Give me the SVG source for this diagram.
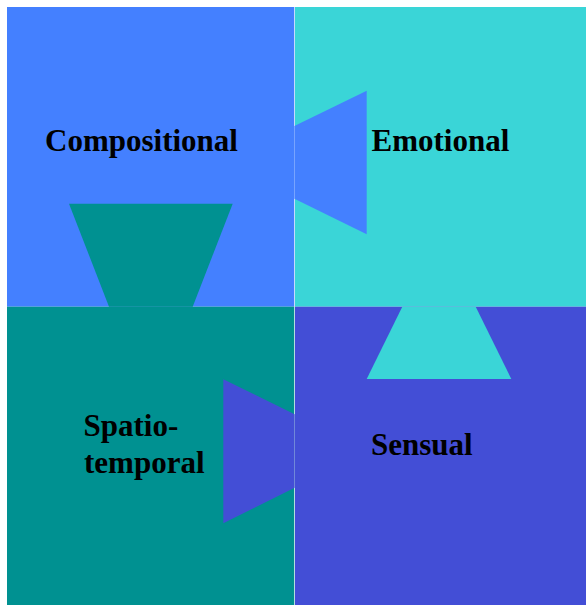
<svg xmlns="http://www.w3.org/2000/svg" width="586" height="605" viewBox="0 0 586 605">
<style>
.lbl{font-family:"Liberation Serif","Times New Roman",serif;font-weight:bold;font-size:31px;fill:#000}
.c1{fill:#4480FF}.c2{fill:#3AD5D7}.c3{fill:#009191}.c4{fill:#434ED6}
</style>
<rect width="586" height="605" fill="#fff"/>
<g id="compositional">
<rect class="c1" x="7" y="7" width="287.3" height="299.7"/>
<text class="lbl" x="45" y="151">Compositional</text>
</g>
<g id="emotional">
<rect class="c2" x="295" y="7" width="291" height="299.7"/>
<text class="lbl" x="371.5" y="151">Emotional</text>
</g>
<g id="spatiotemporal">
<rect class="c3" x="7" y="306.7" width="287.3" height="298.3"/>
<text class="lbl" x="83.5" y="436">Spatio-</text>
<text class="lbl" x="84" y="472.7">temporal</text>
</g>
<g id="sensual">
<rect class="c4" x="295" y="306.7" width="291" height="298.3"/>
<text class="lbl" x="371" y="455">Sensual</text>
</g>
<g id="connectors">
<polygon class="c3" points="69,203.7 232.7,203.7 192.7,306.7 109,306.7"/>
<polygon class="c1" points="294.4,126 366.7,90.7 366.7,234.3 294.4,198.7"/>
<polygon class="c2" points="402.3,306.7 475.7,306.7 511.3,379 366.7,379"/>
<polygon class="c4" points="223.3,379.3 294.6,414.3 294.6,487.7 223.3,523.3"/>
</g>
</svg>
